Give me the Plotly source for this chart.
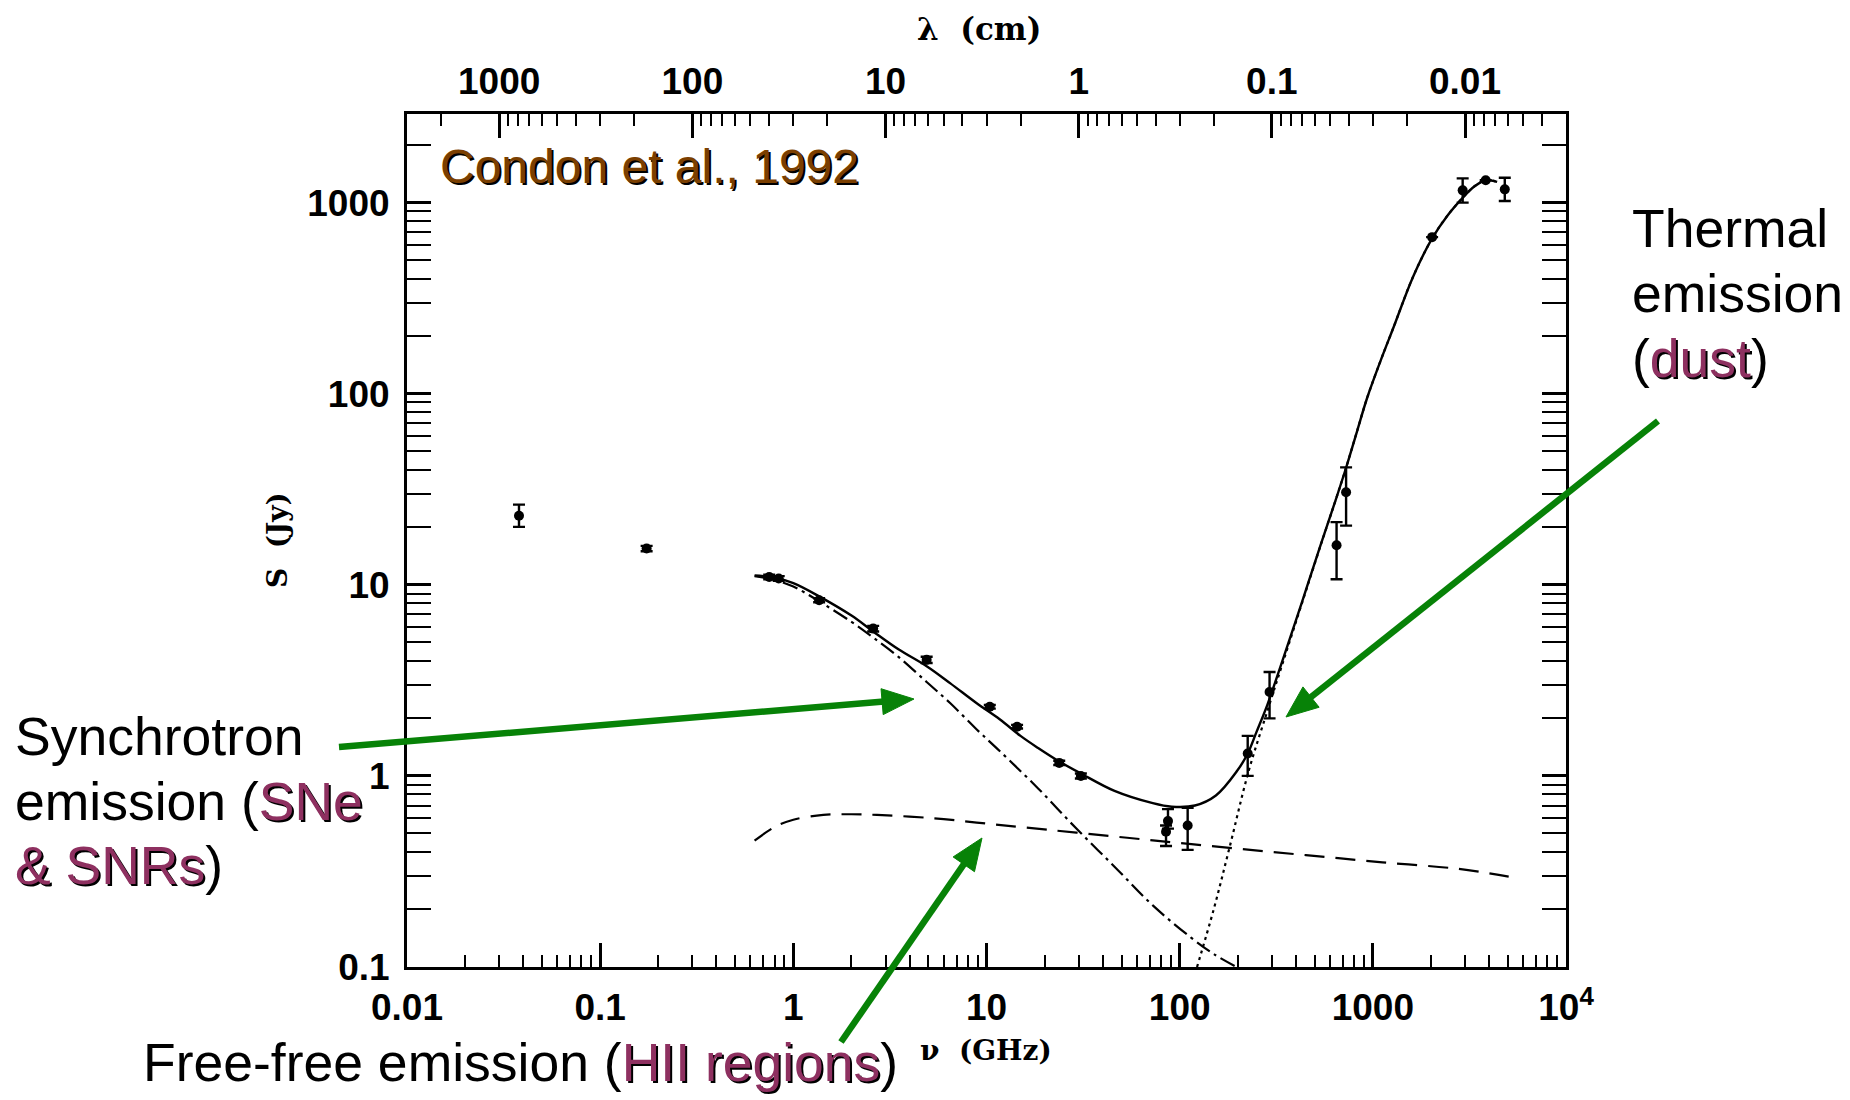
import math
import plotly.graph_objects as go

# ---------------- data ----------------
# observed flux densities: frequency (GHz), flux (Jy), error bars
nu_obs = [0.038, 0.174, 0.75, 0.84, 1.36, 2.59, 4.9, 10.4, 14.4, 23.8, 30.8,
          87, 85, 110, 225, 292, 649, 727, 2027, 2918, 3840, 4820]
S_obs = [23.0, 15.5, 11.0, 10.8, 8.3, 5.9, 4.05, 2.3, 1.81, 1.17, 1.0,
         0.58, 0.51, 0.55, 1.31, 2.75, 16.1, 30.5, 660, 1160, 1310, 1174]
err_hi = [3.3, 0.5, 0.3, 0.3, 0.2, 0.2, 0.15, 0.05, 0.04, 0.03, 0.03,
          0.09, 0.04, 0.13, 0.31, 0.75, 5.2, 10.7, 0, 180, 0, 176]
err_lo = [2.9, 0.5, 0.3, 0.3, 0.2, 0.2, 0.15, 0.05, 0.04, 0.03, 0.03,
          0.05, 0.08, 0.14, 0.31, 0.75, 5.4, 10.1, 0, 160, 0, 154]

# total model (solid)
nu_total = [0.63, 0.8, 1.0, 1.36, 2.0, 2.59, 3.5, 4.9, 6.5, 8.9, 11.7, 15, 18.5,
            23.8, 30.8, 46, 72.6, 91, 120, 154, 198, 225, 250, 285, 343, 431, 540,
            640, 727, 830, 934, 1100, 1285, 1616, 2027, 2432, 2918, 3350, 3840, 4400]
S_total = [11.2, 10.9, 10.2, 8.7, 6.9, 5.7, 4.6, 3.75, 3.05, 2.4, 1.98, 1.62, 1.4,
           1.19, 1.03, 0.835, 0.72, 0.69, 0.70, 0.79, 1.06, 1.31, 1.7, 2.37, 4.1, 8.2, 16.5,
           27.5, 41.0, 64, 95, 150, 225, 410, 650, 855, 1060, 1215, 1310, 1285]

# synchrotron (dash-dot)
nu_sync = [0.63, 0.8, 1.0, 1.36, 2.0, 2.59, 3.5, 4.9, 6.5, 8.9, 11.7, 18.5,
           29.2, 46, 72.6, 115, 150, 197]
S_sync = [11.1, 10.6, 9.8, 8.2, 6.4, 5.3, 4.2, 3.1, 2.4, 1.75, 1.35, 0.86,
          0.53, 0.335, 0.21, 0.142, 0.117, 0.1]

# free-free (dashed)
nu_ff = [0.63, 0.8, 1.0, 1.43, 2.0, 2.71, 5.37, 8.9, 15, 29.2, 72.6, 181, 450, 1122, 2790, 5050]
S_ff = [0.458, 0.54, 0.59, 0.625, 0.63, 0.625, 0.60, 0.57, 0.54, 0.505, 0.46, 0.42,
        0.385, 0.353, 0.326, 0.297]

# thermal dust (dotted)
nu_dust = [123, 150, 181, 227, 285, 343, 431, 540, 640, 727, 830, 934, 1100, 1285,
           1616, 2027, 2432, 2918, 3350, 3840, 4400]
S_dust = [0.1, 0.2, 0.42, 1.05, 2.2, 3.95, 8.1, 16.4, 27.5, 41.0, 64, 95, 150, 225,
          410, 650, 855, 1060, 1215, 1310, 1285]

x_tickvals = [0.01, 0.1, 1, 10, 100, 1000, 10000]
x_ticktext = ["0.01", "0.1", "1", "10", "100", "1000", "10<sup>4</sup>"]
y_tickvals = [0.1, 1, 10, 100, 1000]
y_ticktext = ["0.1", "1", "10", "100", "1000"]
lam_tickvals = [1000, 100, 10, 1, 0.1, 0.01]
lam_ticktext = ["1000", "100", "10", "1", "0.1", "0.01"]
C_CM_GHZ = 30.0  # lambda(cm) = 30 / nu(GHz)

# ---------------- layout geometry ----------------
W, H = 1850, 1100
L, R, T, B = 407, 1566, 114, 967
PW, PH = R - L, B - T

GREEN = "#078207"
PURPLE = "#8E3060"
BROWN = "#7B3F00"
TICKFONT = dict(family="Liberation Sans Narrow, Liberation Sans, Arial", size=37,
                color="black", weight="bold")
SERIF = "DejaVu Serif, Liberation Serif, serif"
SANS = "Liberation Sans, Arial, sans-serif"


def paper(xp, yp):
    return (xp - L) / PW, (B - yp) / PH


fig = go.Figure()

fig.add_trace(go.Scatter(x=nu_ff, y=S_ff, mode="lines", line_shape="spline",
                         line=dict(color="black", width=2.2, dash="20px,11px"),
                         hoverinfo="skip", name="free-free"))
fig.add_trace(go.Scatter(x=nu_sync, y=S_sync, mode="lines", line_shape="spline",
                         line=dict(color="black", width=2.2, dash="16px,5px,3px,5px"),
                         hoverinfo="skip", name="synchrotron"))
fig.add_trace(go.Scatter(x=nu_dust, y=S_dust, mode="lines", line_shape="spline",
                         line=dict(color="black", width=2.2, dash="3px,4px"),
                         hoverinfo="skip", name="dust"))
fig.add_trace(go.Scatter(x=nu_total, y=S_total, mode="lines", line_shape="spline",
                         line=dict(color="black", width=2.4),
                         hoverinfo="skip", name="total"))
fig.add_trace(go.Scatter(x=nu_obs, y=S_obs, mode="markers",
                         marker=dict(color="black", size=10, symbol="circle"),
                         error_y=dict(type="data", array=err_hi, arrayminus=err_lo,
                                      color="black", thickness=2.4, width=6, visible=True),
                         name="data"))
# invisible trace to carry the wavelength axis
fig.add_trace(go.Scatter(x=[C_CM_GHZ / n for n in nu_obs], y=S_obs, xaxis="x2", yaxis="y",
                         mode="markers", marker=dict(opacity=0), hoverinfo="skip",
                         showlegend=False))

minor_x = [k * 10.0 ** e for e in range(-2, 4) for k in range(2, 10)]
minor_y = [k * 10.0 ** e for e in range(-1, 4) for k in range(2, 10) if k * 10.0 ** e < 2900]
minor_lam = [k * 10.0 ** e for e in range(-3, 4) for k in range(2, 10)
             if 0.003 < k * 10.0 ** e < 3000]

common = dict(showgrid=False, zeroline=False, showline=True, linecolor="black", linewidth=3,
              ticks="inside", tickcolor="black", tickwidth=2.5, ticklen=24,
              tickfont=TICKFONT)

fig.update_layout(
    width=W, height=H,
    margin=dict(l=L, r=W - R, t=T, b=H - B, pad=0),
    paper_bgcolor="white", plot_bgcolor="white", showlegend=False,
    xaxis=dict(type="log", range=[-2, 4], tickmode="array", tickvals=x_tickvals,
               ticktext=x_ticktext, mirror=True, ticklabelstandoff=6,
               minor=dict(ticks="inside", ticklen=12, tickwidth=2, tickcolor="black",
                          tickmode="array", tickvals=minor_x, showgrid=False),
               **common),
    xaxis2=dict(type="log", overlaying="x", side="top", anchor="y",
                range=[math.log10(C_CM_GHZ / 0.01), math.log10(C_CM_GHZ / 1e4)],
                tickmode="array", tickvals=lam_tickvals, ticktext=lam_ticktext,
                ticklabelstandoff=2,
                minor=dict(ticks="inside", ticklen=12, tickwidth=2, tickcolor="black",
                           tickmode="array", tickvals=minor_lam, showgrid=False),
                **common),
    yaxis=dict(type="log", range=[-1, 3.464], tickmode="array", tickvals=y_tickvals,
               ticktext=y_ticktext, mirror="allticks", ticklabelstandoff=7,
               minor=dict(ticks="inside", ticklen=12, tickwidth=2, tickcolor="black",
                          tickmode="array", tickvals=minor_y, showgrid=False),
               **common),
)

annotations = []


def add_text(xp, yp, text, size, color="black", family=SANS, xanchor="left",
             angle=0, shadow=None, weight="normal"):
    if shadow is not None:
        sx, sy = paper(xp + 2.2, yp + 2.2)
        annotations.append(dict(xref="paper", yref="paper", x=sx, y=sy, text=shadow,
                                showarrow=False, xanchor=xanchor, yanchor="middle",
                                textangle=angle,
                                font=dict(family=family, size=size, color="black",
                                          weight=weight)))
    px_, py_ = paper(xp, yp)
    annotations.append(dict(xref="paper", yref="paper", x=px_, y=py_, text=text,
                            showarrow=False, xanchor=xanchor, yanchor="middle",
                            textangle=angle,
                            font=dict(family=family, size=size, color=color,
                                      weight=weight)))


def purple(s):
    return '<span style="color:%s">%s</span>' % (PURPLE, s)


def hidden(s):
    return '<span style="color:rgba(0,0,0,0)">%s</span>' % s


# axis titles
add_text(979, 29, "λ  (cm)", 31, family=SERIF, xanchor="center", weight="bold")
add_text(277, 540, "S  (Jy)", 28, family=SERIF, xanchor="center", angle=-90, weight="bold")
add_text(986, 1050, "ν  (GHz)", 28, family=SERIF, xanchor="center", weight="bold")

# reference label
add_text(438, 166, "Condon et al., 1992", 48, color=BROWN, shadow="Condon et al., 1992")

# Thermal emission (dust)
FS = 53.5
add_text(1630, 228, "Thermal", FS)
add_text(1630, 293, "emission", FS)
add_text(1630, 358, "(" + purple("dust") + ")", FS,
         shadow=hidden("(") + "dust" + hidden(")"))

# Synchrotron emission (SNe & SNRs)
add_text(13, 736, "Synchrotron", FS)
add_text(13, 801, "emission (" + purple("SNe"), FS,
         shadow=hidden("emission (") + "SNe")
add_text(13, 865, purple("&amp; SNRs") + ")", FS,
         shadow="&amp; SNRs" + hidden(")"))

# Free-free emission (HII regions)
add_text(141, 1062, "Free-free emission (" + purple("HII regions") + ")", FS,
         shadow=hidden("Free-free emission (") + "HII regions" + hidden(")"))

fig.update_layout(annotations=annotations)

# green arrows drawn as shapes (shaft + filled head)
HEAD_LEN, HEAD_HALF = 32, 13


def add_arrow(tail, head):
    dx, dy = head[0] - tail[0], head[1] - tail[1]
    n = math.hypot(dx, dy)
    ux, uy = dx / n, dy / n
    bx, by = head[0] - HEAD_LEN * ux, head[1] - HEAD_LEN * uy
    t0 = paper(*tail)
    b0 = paper(bx + 2 * ux, by + 2 * uy)
    fig.add_shape(type="line", xref="paper", yref="paper",
                  x0=t0[0], y0=t0[1], x1=b0[0], y1=b0[1],
                  line=dict(color=GREEN, width=6.5))
    p1 = paper(*head)
    p2 = paper(bx - HEAD_HALF * uy, by + HEAD_HALF * ux)
    p3 = paper(bx + HEAD_HALF * uy, by - HEAD_HALF * ux)
    path = "M %f,%f L %f,%f L %f,%f Z" % (p1[0], p1[1], p2[0], p2[1], p3[0], p3[1])
    fig.add_shape(type="path", xref="paper", yref="paper", path=path,
                  fillcolor=GREEN, line=dict(color=GREEN, width=1))


add_arrow((339, 747), (914, 699))
add_arrow((841, 1042), (982, 838))
add_arrow((1658, 421), (1286, 717))

fig.write_html("out.html")
